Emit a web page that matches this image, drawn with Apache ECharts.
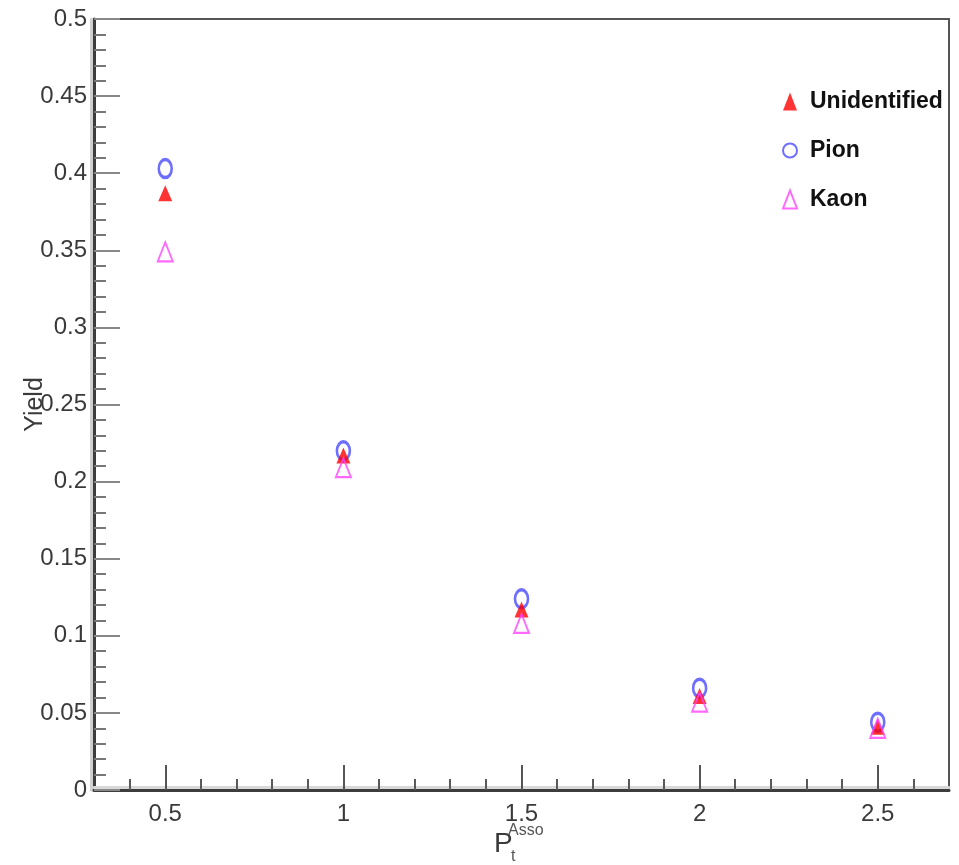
<!DOCTYPE html>
<html>
<head>
<meta charset="utf-8">
<title>Yield vs associated pT</title>
<script src="https://cdn.jsdelivr.net/npm/echarts@6/dist/echarts.min.js"></script>
<style>
  html, body { margin: 0; padding: 0; background: #fff; }
  #chart { width: 959px; height: 865px; }
</style>
</head>
<body>
<div id="chart"></div>
<script>
// Associated-particle pT bins (GeV/c)
const ptBins = [0.5, 1.0, 1.5, 2.0, 2.5];

// Per-trigger yields for each associated species
const yieldUnidentified = [0.387, 0.217, 0.117, 0.061, 0.041];
const yieldPion         = [0.403, 0.220, 0.124, 0.066, 0.044];
const yieldKaon         = [0.349, 0.209, 0.108, 0.057, 0.040];

// Axis tick positions
const xMajorTicks = [0.5, 1.0, 1.5, 2.0, 2.5];
const xMinorTicks = [0.4, 0.6, 0.7, 0.8, 0.9, 1.1, 1.2, 1.3, 1.4, 1.6, 1.7, 1.8, 1.9,
                     2.1, 2.2, 2.3, 2.4, 2.6];
const xLabels = ['0.5', '1', '1.5', '2', '2.5'];

const SANS = '"Liberation Sans", Arial, Helvetica, sans-serif';

const pairs = arr => ptBins.map((x, i) => [x, arr[i]]);

const chart = echarts.init(document.getElementById('chart'), null, { renderer: 'canvas' });

chart.setOption({
  animation: false,
  backgroundColor: '#ffffff',
  grid: {
    left: 94, right: 10, top: 19, bottom: 75,
    outerBoundsMode: 'none', containLabel: false,
    show: true, borderColor: '#555', borderWidth: 2, backgroundColor: 'transparent'
  },
  xAxis: [
    {
      type: 'value', min: 0.3, max: 2.7,
      axisLine: { show: true, onZero: false,
        lineStyle: { color: '#3c3c3c', width: 3, shadowColor: '#d8d8d8', shadowOffsetY: -3, shadowBlur: 0 } },
      axisTick: { show: true, inside: true, length: 25, customValues: xMajorTicks,
        lineStyle: { color: '#555', width: 2 } },
      axisLabel: { show: true, customValues: xMajorTicks, margin: 12,
        formatter: v => xLabels[xMajorTicks.indexOf(+v.toFixed(1))] ?? '',
        color: '#3a3a3a', fontSize: 24, fontFamily: SANS },
      splitLine: { show: false }
    },
    {
      type: 'value', min: 0.3, max: 2.7, position: 'bottom',
      axisLine: { show: false },
      axisTick: { show: true, inside: true, length: 11, customValues: xMinorTicks,
        lineStyle: { color: '#5a5a5a', width: 2 } },
      axisLabel: { show: false },
      splitLine: { show: false }
    }
  ],
  yAxis: {
    type: 'value', min: 0, max: 0.5, interval: 0.05,
    name: 'Yield', nameLocation: 'middle', nameRotate: 90, nameGap: 46, nameMoveOverlap: false,
    nameTextStyle: { color: '#3a3a3a', fontSize: 25, fontFamily: SANS },
    axisLine: { show: true,
      lineStyle: { color: '#3c3c3c', width: 3, shadowColor: '#d0d0d0', shadowOffsetX: -3, shadowBlur: 0 } },
    axisTick: { show: true, inside: true, length: 26, lineStyle: { color: '#888', width: 2 } },
    minorTick: { show: true, splitNumber: 5, length: 12, lineStyle: { color: '#777', width: 2 } },
    axisLabel: { margin: 7, color: '#3a3a3a', fontSize: 24, fontFamily: SANS },
    splitLine: { show: false }
  },
  legend: {
    orient: 'vertical', left: 777, top: 85,
    itemWidth: 14, itemHeight: 18, itemGap: 26,
    textStyle: { color: '#111', fontSize: 23, fontWeight: 'bold', fontFamily: SANS, padding: [0, 0, 0, 8] },
    data: ['Unidentified', 'Pion', 'Kaon']
  },
  series: [
    {
      name: 'Unidentified', type: 'scatter', symbol: 'triangle', symbolSize: [14, 16],
      itemStyle: { color: '#ff0000' }, z: 3,
      data: pairs(yieldUnidentified)
    },
    {
      name: 'Pion', type: 'scatter', symbol: 'circle', symbolSize: [13, 18],
      itemStyle: { color: 'rgba(255,255,255,0)', borderColor: '#4a4aff', borderWidth: 3 }, z: 2,
      data: pairs(yieldPion)
    },
    {
      name: 'Kaon', type: 'scatter', symbol: 'triangle', symbolSize: [15, 19],
      itemStyle: { color: 'rgba(255,255,255,0)', borderColor: '#ff44ff', borderWidth: 2 }, z: 4,
      data: pairs(yieldKaon)
    }
  ],
  graphic: [
    { type: 'text', left: 494, top: 830, style: { text: 'P', fill: '#3a3a3a', fontSize: 28, fontFamily: SANS } },
    { type: 'text', left: 508, top: 823, style: { text: 'Asso', fill: '#555', fontSize: 16, fontFamily: SANS } },
    { type: 'text', left: 511, top: 849, style: { text: 't', fill: '#555', fontSize: 16, fontFamily: SANS } }
  ]
});
</script>
</body>
</html>
